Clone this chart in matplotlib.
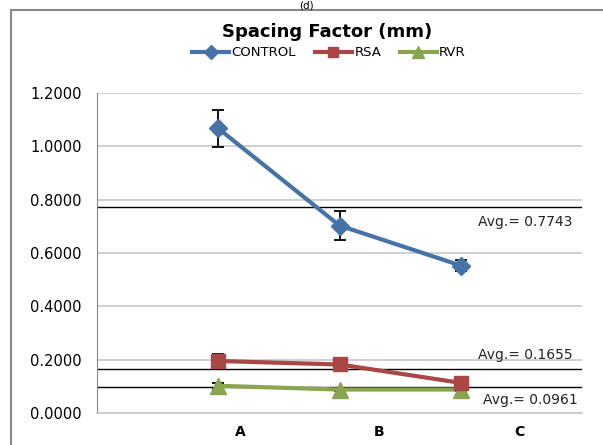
import matplotlib
matplotlib.use("Agg")
import matplotlib.pyplot as plt
from matplotlib.patches import Rectangle
from matplotlib.lines import Line2D
from matplotlib.ticker import FormatStrFormatter

categories = ["A", "B", "C"]
control = [1.067, 0.703, 0.553]
control_err = [0.068, 0.055, 0.020]
rsa = [0.195, 0.182, 0.113]
rsa_err = [0.027, 0.010, 0.010]
rvr = [0.102, 0.088, 0.088]
rvr_err = [0.012, 0.005, 0.005]
averages = [0.7743, 0.1655, 0.0961]
avg_labels = ["Avg.= 0.7743", "Avg.= 0.1655", "Avg.= 0.0961"]
yticks = [0.0, 0.2, 0.4, 0.6, 0.8, 1.0, 1.2]
series_names = ["CONTROL", "RSA", "RVR"]

plt.rcParams['font.family'] = ['DejaVu Sans']

fig = plt.figure(figsize=(6.03, 4.45), dpi=100)
ax = fig.add_axes([97/603, 1-413/445, (582-97)/603, (413-93)/445])

x = [1, 2, 3]
colors = ["#4572A7", "#AA4643", "#89A54E"]
markers = ['D', 's', '^']
msizes = [9, 10, 11]
data = [control, rsa, rvr]
errs = [control_err, rsa_err, rvr_err]

for i, (vals, err) in enumerate(zip(data, errs)):
    ax.errorbar(x, vals, yerr=err, color=colors[i], lw=3, marker=markers[i], ms=msizes[i],
                ecolor='black', elinewidth=1.3, capsize=4, capthick=1.3, zorder=5-i)

for a in averages:
    ax.axhline(a, color='black', lw=1.0, zorder=2)

offsets = [(-7, -11.5), (-7, 10), (-3, -9)]
for a, lab, off in zip(averages, avg_labels, offsets):
    ax.annotate(lab, xy=(1.0, a), xycoords=('axes fraction', 'data'),
                xytext=off, textcoords='offset points',
                ha='right', va='center', fontsize=10, color='#222222')

ax.set_xlim(0, 4)
ax.set_ylim(0, 1.2)
ax.set_yticks(yticks)
ax.yaxis.set_major_formatter(FormatStrFormatter('%.4f'))
ax.set_xticks([1.18, 2.33, 3.48])
ax.set_xticklabels(categories, fontweight='bold', fontsize=10)
ax.tick_params(axis='both', length=0)
ax.tick_params(axis='y', pad=11, labelsize=10.5)
ax.tick_params(axis='x', pad=9)
ax.grid(axis='y', color='#c8c8c8', lw=1.2)
ax.set_axisbelow(True)
for s in ['top', 'right']:
    ax.spines[s].set_visible(False)
ax.spines['left'].set_color('#888888')
ax.spines['bottom'].set_color('#c8c8c8')
ax.spines['bottom'].set_linewidth(1.2)

fig.text(327/603, 1-32/445, "Spacing Factor (mm)", ha='center', va='center',
         fontsize=13, fontweight='bold')
handles = [Line2D([], [], color=c, lw=3, marker=m, ms=s*0.75)
           for c, m, s in zip(colors, markers, msizes)]
fig.legend(handles, series_names, loc='center', bbox_to_anchor=(329/603, 1-53/445),
           ncol=3, frameon=False, fontsize=9.5, handlelength=2.8,
           columnspacing=1.4, handletextpad=0.2)

fig.text(306/603, 1-1/445, "(d)", ha='center', va='top', fontsize=7.5)
fig.patches.append(Rectangle((11/603, -0.1), 1.2, 1-10/445+0.1, transform=fig.transFigure,
                             fill=False, edgecolor='#888888', lw=1.5))

fig.savefig("out.png", dpi=100)
